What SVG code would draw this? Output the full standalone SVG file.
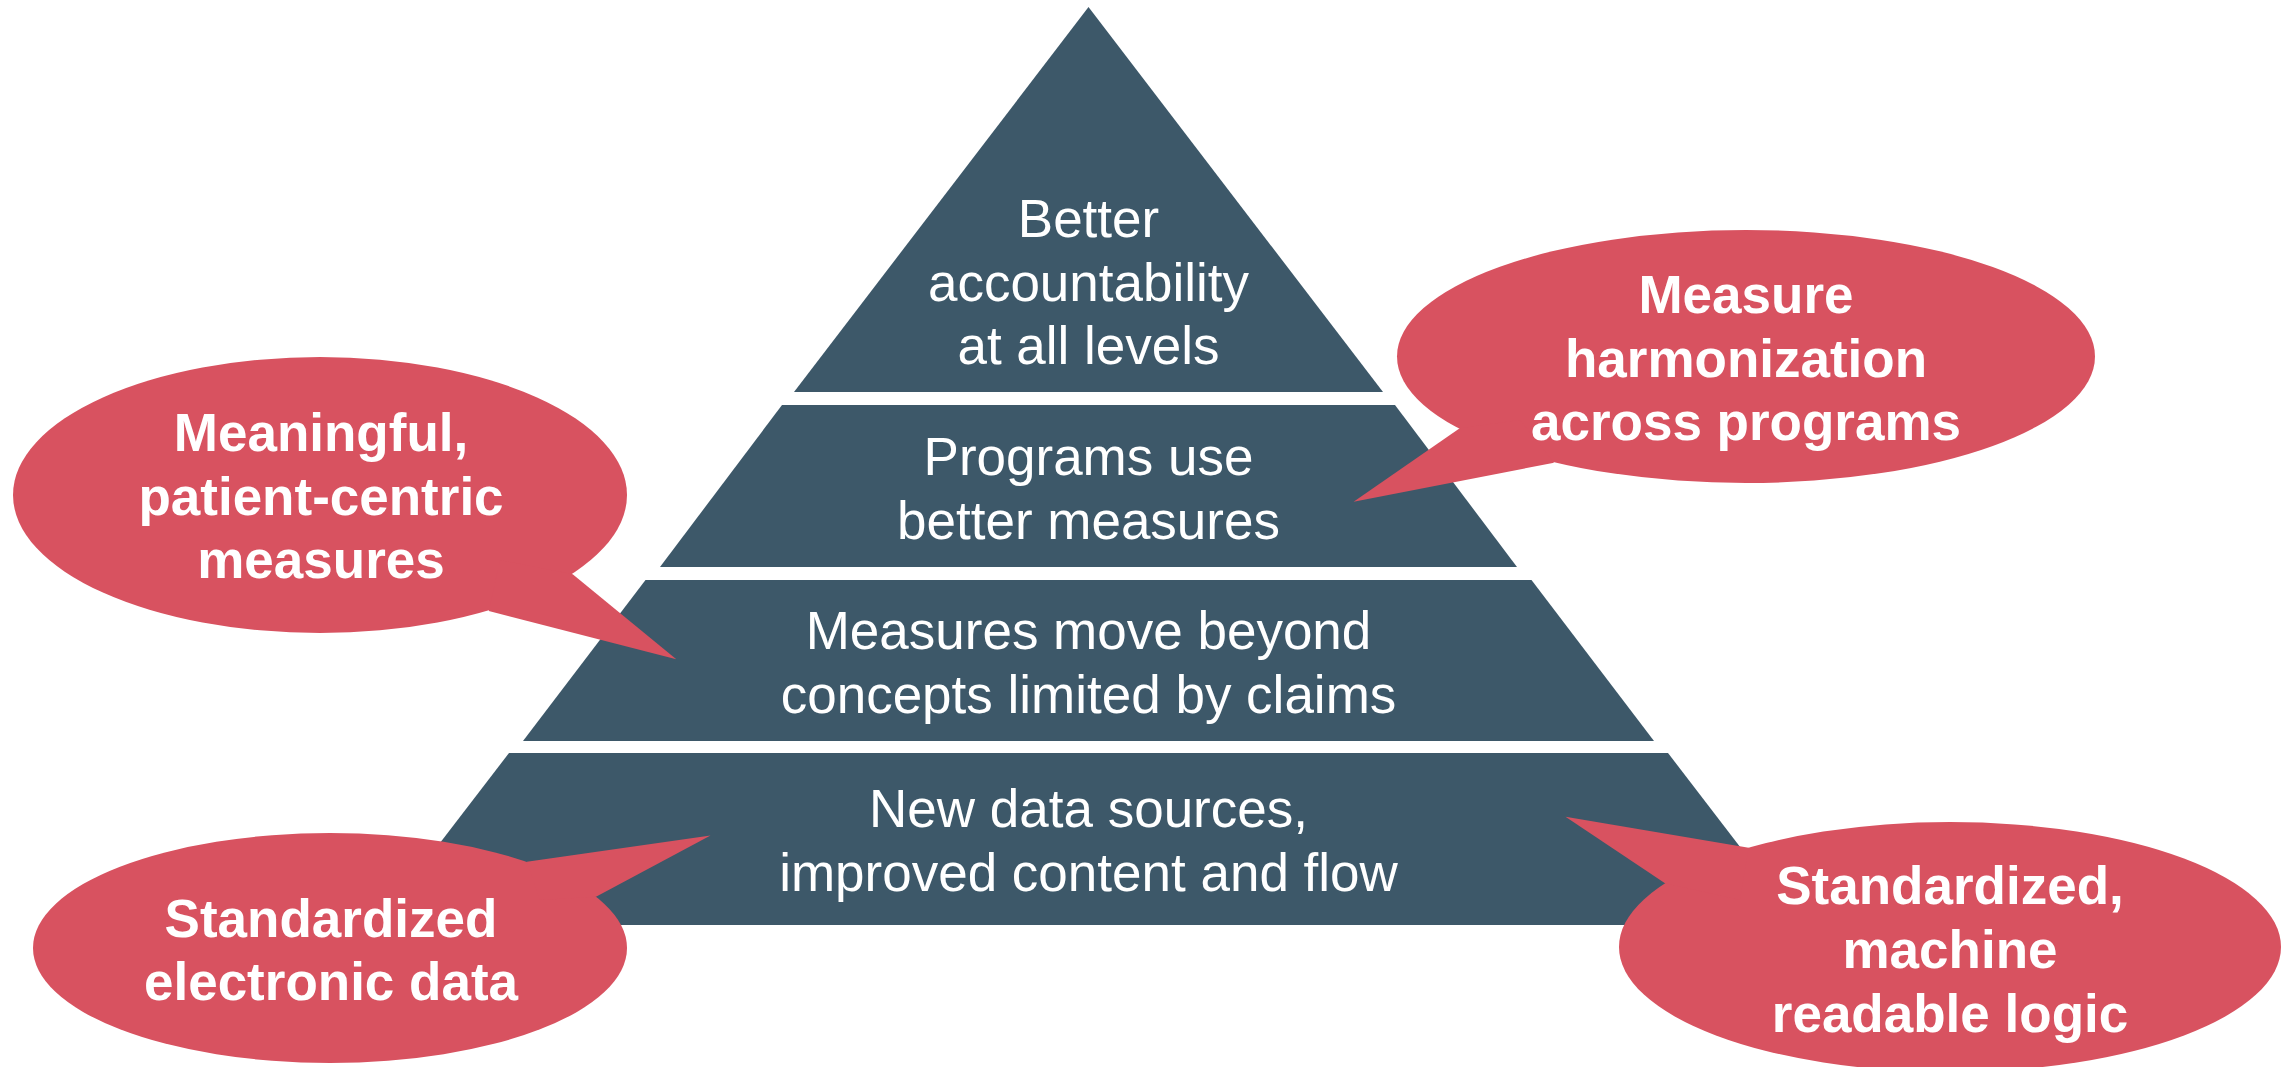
<svg xmlns="http://www.w3.org/2000/svg" width="2292" height="1067" viewBox="0 0 2292 1067">
<style>
.tier{fill:#3d5869;}
.bub{fill:#d85260;}
.tt{font-family:"Liberation Sans",Arial,sans-serif;font-size:53px;fill:#ffffff;text-anchor:middle;}
.bt{font-family:"Liberation Sans",Arial,sans-serif;font-size:53px;font-weight:bold;fill:#ffffff;text-anchor:middle;}
</style>
<rect width="2292" height="1067" fill="#ffffff"/>
<g id="pyramid">
<g id="tier-top">
<polygon class="tier" points="1088.5,7 1383,392 794,392"/>
<text class="tt" x="1088.5" y="237">Better</text>
<text class="tt" x="1088.5" y="301">accountability</text>
<text class="tt" x="1088.5" y="364">at all levels</text>
</g>
<g id="tier-programs">
<polygon class="tier" points="782,405 1395,405 1517,567 660,567"/>
<text class="tt" x="1088.5" y="475">Programs use</text>
<text class="tt" x="1088.5" y="539">better measures</text>
</g>
<g id="tier-measures">
<polygon class="tier" points="645.5,580 1531.5,580 1654,741 523,741"/>
<text class="tt" x="1088.5" y="649">Measures move beyond</text>
<text class="tt" x="1088.5" y="713">concepts limited by claims</text>
</g>
<g id="tier-data">
<polygon class="tier" points="509,753 1668,753 1800,925 377,925"/>
<text class="tt" x="1088.5" y="827">New data sources,</text>
<text class="tt" x="1088.5" y="891">improved content and flow</text>
</g>
</g>
<g id="connectors"></g>
<g id="bubble-meaningful">
<ellipse class="bub" cx="320" cy="495" rx="307" ry="138"/>
<polygon class="bub" points="572.7,574.3 676.3,659.3 488.8,611 500,560"/>
<text class="bt" x="321" y="451">Meaningful,</text>
<text class="bt" x="321" y="515">patient-centric</text>
<text class="bt" x="321" y="578">measures</text>
</g>
<g id="bubble-harmonization">
<ellipse class="bub" cx="1746" cy="356.5" rx="349" ry="126.5"/>
<polygon class="bub" points="1459.7,428.3 1353.6,501.7 1554,462.7 1520,420"/>
<text class="bt" x="1746" y="313">Measure</text>
<text class="bt" x="1746" y="377">harmonization</text>
<text class="bt" x="1746" y="440">across programs</text>
</g>
<g id="bubble-electronic">
<ellipse class="bub" cx="330" cy="948" rx="297" ry="115"/>
<polygon class="bub" points="526.8,861.7 710.5,835.5 596,896.7 540,900"/>
<text class="bt" x="331" y="937">Standardized</text>
<text class="bt" x="331" y="1000">electronic data</text>
</g>
<g id="bubble-logic">
<ellipse class="bub" cx="1950" cy="947" rx="331" ry="125"/>
<polygon class="bub" points="1665,883.3 1565.5,816.7 1748.7,847.7 1740,900"/>
<text class="bt" x="1950" y="904">Standardized,</text>
<text class="bt" x="1950" y="968">machine</text>
<text class="bt" x="1950" y="1032">readable logic</text>
</g>
</svg>
